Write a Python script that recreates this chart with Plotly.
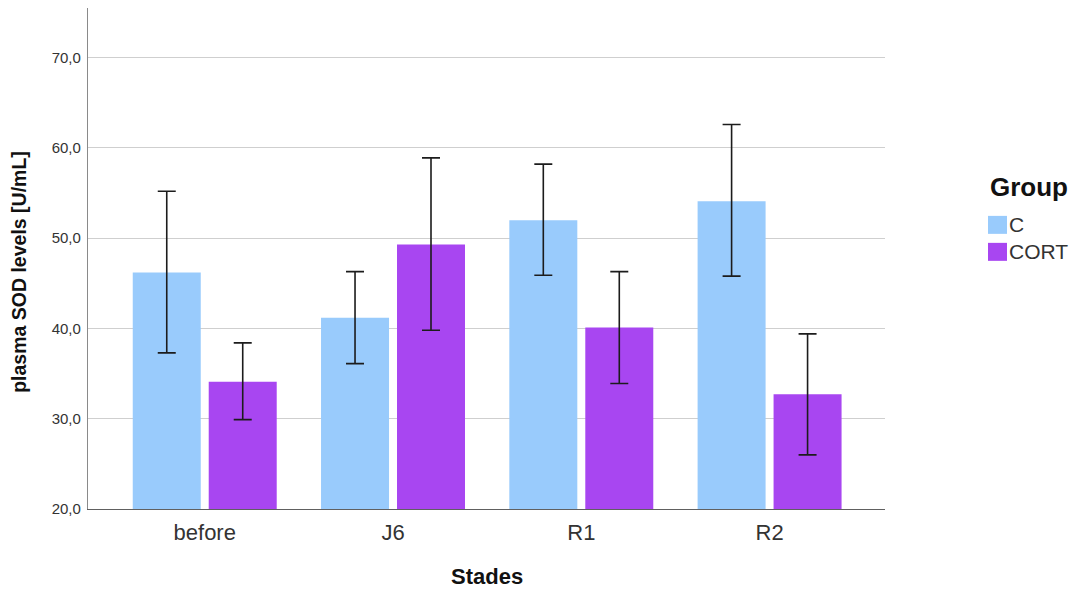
import plotly.graph_objects as go

# ---- data ----
stades = ["before", "J6", "R1", "R2"]
groups = ["C", "CORT"]
c_mean = [46.2, 41.2, 52.0, 54.1]
c_upper = [55.2, 46.3, 58.2, 62.6]
c_lower = [37.3, 36.1, 45.9, 45.8]
cort_mean = [34.1, 49.3, 40.1, 32.7]
cort_upper = [38.4, 58.9, 46.3, 39.4]
cort_lower = [29.9, 39.8, 33.9, 26.0]
y_ticks = [20, 30, 40, 50, 60, 70]

colors = {"C": "#99CBFC", "CORT": "#A846F1"}
FONT = "Liberation Sans, Arial, sans-serif"

# the page body has an 8px margin; the figure is sized to fill the rest
OFF = 8
W, H = 1077 - OFF, 591 - OFF
L, T = 88 - OFF, 8 - OFF
PLOT_R, PLOT_B = 885 - OFF, 509.3 - OFF
R = W - PLOT_R
B = H - PLOT_B
pw = PLOT_R - L
ph = PLOT_B - T

fig = go.Figure()

series = [("C", c_mean, c_upper, c_lower), ("CORT", cort_mean, cort_upper, cort_lower)]
for name, m, up, lo in series:
    fig.add_trace(go.Bar(
        x=stades, y=m, name=name,
        marker=dict(color=colors[name], line=dict(width=0)),
        error_y=dict(type="data", symmetric=False,
                     array=[u - v for u, v in zip(up, m)],
                     arrayminus=[v - l for v, l in zip(m, lo)],
                     color="#1c1c1c", thickness=1.6, width=9),
        showlegend=False,
    ))

fig.update_layout(
    width=W, height=H,
    margin=dict(l=L, r=R, t=T, b=B, pad=0),
    paper_bgcolor="white", plot_bgcolor="white",
    barmode="group", bargap=0.193, bargroupgap=0.105,
    separators=",.",
    font=dict(family=FONT, color="#222"),
    xaxis=dict(
        range=[-0.62, 3.613], showgrid=False, showline=True,
        linecolor="#606060", linewidth=1.3, ticks="",
        tickfont=dict(size=22, color="#333333", family=FONT),
        ticklabelstandoff=3,
    ),
    yaxis=dict(
        range=[20, 75.5], tickvals=y_ticks, tickformat=".1f",
        showgrid=True, gridcolor="#cfcfcf", gridwidth=1.3,
        showline=True, linecolor="#8a8a8a", linewidth=1.3,
        ticks="", zeroline=False,
        tickfont=dict(size=15, color="#333333", family=FONT),
        ticklabelstandoff=3,
    ),
)

def px_x(p):
    return (p - OFF - L) / pw

def px_y(p):
    return (PLOT_B - (p - OFF)) / ph

# axis titles
fig.add_annotation(text="<b>plasma SOD levels [U/mL]</b>", xref="paper", yref="paper",
                   x=px_x(19), y=px_y(272), textangle=-90, showarrow=False,
                   font=dict(size=19.5, color="#111", family=FONT),
                   xanchor="center", yanchor="middle")
fig.add_annotation(text="<b>Stades</b>", xref="paper", yref="paper",
                   x=px_x(487), y=px_y(577), showarrow=False,
                   font=dict(size=22, color="#111", family=FONT),
                   xanchor="center", yanchor="middle")

# legend
fig.add_annotation(text="<b>Group</b>", xref="paper", yref="paper",
                   x=px_x(988), y=px_y(187), showarrow=False,
                   font=dict(size=26, color="#111", family=FONT),
                   xanchor="left", yanchor="middle")
for i, g in enumerate(groups):
    top = 216 + i * 27
    fig.add_shape(type="rect", xref="paper", yref="paper",
                  x0=px_x(988), x1=px_x(1007), y0=px_y(top), y1=px_y(top + 18),
                  fillcolor=colors[g], line=dict(width=0))
    fig.add_annotation(text=g, xref="paper", yref="paper",
                       x=px_x(1007), y=px_y(top + 9), showarrow=False,
                       font=dict(size=21, color="#333333", family=FONT),
                       xanchor="left", yanchor="middle")

fig.write_html("out.html")
